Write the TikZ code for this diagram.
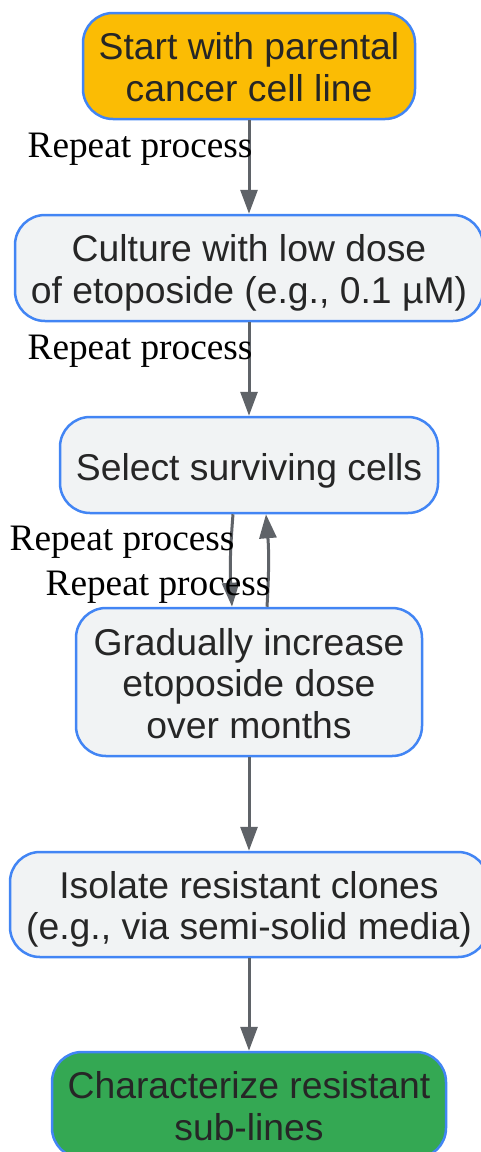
\documentclass[tikz,border=0pt]{standalone}
\usepackage{fontspec}
\setmainfont{Liberation Sans}
\newfontfamily\lblfont{Liberation Serif}
\usetikzlibrary{arrows.meta}
\definecolor{bordblue}{HTML}{4285F4}
\definecolor{startyel}{HTML}{FBBC04}
\definecolor{boxgray}{HTML}{F1F3F4}
\definecolor{endgreen}{HTML}{34A853}
\definecolor{arrgray}{HTML}{5F6368}
\definecolor{txtdark}{HTML}{262626}
\tikzset{
  stepbox/.style={draw=bordblue, line width=2.5pt, rounded corners=30pt, fill=boxgray,
    align=center, inner sep=0pt, text=txtdark,
    font=\fontsize{37.3}{41.5}\selectfont},
  oneline/.style={text height=30pt, text depth=0pt},
  twoline/.style={text height=70pt, text depth=0pt},
  threeline/.style={text height=112pt, text depth=0pt},
  conn/.style={draw=arrgray, line width=3pt, -{Triangle[length=24pt,width=17pt]}},
  lbl/.style={font=\lblfont\fontsize{37.3}{40}\selectfont, text=black, inner sep=0pt, anchor=base}
}
\begin{document}
\begin{tikzpicture}[x=1pt,y=-1pt]
\useasboundingbox (0,0) rectangle (481,1152);
\node[stepbox, twoline, fill=startyel, minimum width=332pt, minimum height=106pt] (start) at (249,66) {Start with parental\\cancer cell line};
\node[stepbox, twoline, minimum width=468pt, minimum height=106pt] (cult) at (249,268) {Culture with low dose\\of etoposide (e.g., 0.1 µM)};
\node[stepbox, oneline, minimum width=378pt, minimum height=96pt] (sel) at (249,465) {Select surviving cells};
\node[stepbox, threeline, minimum width=346pt, minimum height=148pt] (grad) at (249,682) {Gradually increase\\etoposide dose\\over months};
\node[stepbox, twoline, minimum width=478pt, minimum height=105pt] (iso) at (249,904.5) {Isolate resistant clones\\(e.g., via semi-solid media)};
\node[stepbox, twoline, fill=endgreen, minimum width=394pt, minimum height=106pt] (char) at (249,1105) {Characterize resistant\\sub-lines};

\draw[conn] (start) -- (cult);
\draw[conn] (cult) -- (sel);
\draw[conn] ([xshift=-16pt]sel.south) to[bend right=4] ([xshift=-17pt]grad.north);
\draw[conn] ([xshift=18pt]grad.north) to[bend right=4] ([xshift=17pt]sel.south);
\draw[conn] (grad) -- (iso);
\draw[conn] (iso) -- (char);

\node[lbl] (l1) at (140,157) {Repeat process};
\node[lbl] (l2) at (140,359) {Repeat process};
\node[lbl] (l3) at (122,550) {Repeat process};
\node[lbl] (l4) at (158,595) {Repeat process};
\end{tikzpicture}
\end{document}
